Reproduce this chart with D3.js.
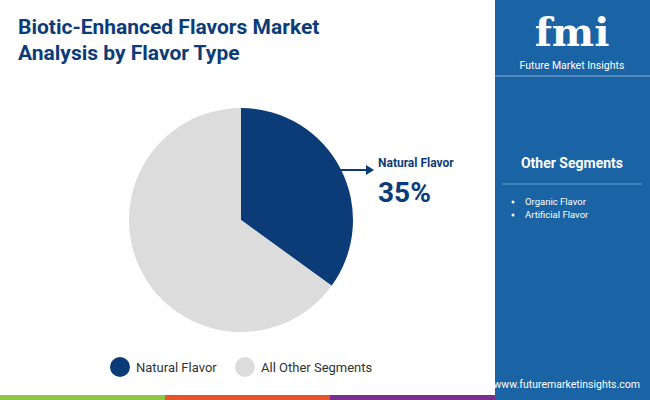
<!DOCTYPE html><html><head><script src="https://d3js.org/d3.v7.min.js"></script>
<style>body{margin:0}svg{display:block;font-family:Roboto,sans-serif}</style></head><body><svg width="650" height="400"></svg><script>
const categories=["Natural Flavor","All Other Segments"];
const values=[35,65];
const colors=["#0c3c78","#dcdcdc"];
const otherSegments=["Organic Flavor","Artificial Flavor"];
const svg=d3.select("svg");
svg.append("rect").attr("width",650).attr("height",400).attr("fill","#fff");
svg.append("rect").attr("x",495).attr("width",155).attr("height",400).attr("fill","#1a63a5");
svg.append("line").attr("x1",495).attr("x2",650).attr("y1",76).attr("y2",76).attr("stroke","#fff").attr("stroke-opacity",0.5);
[["#8dc63f",0],["#e8542a",165],["#7b2e8e",330]].forEach(([c,x])=>svg.append("rect").attr("x",x).attr("y",395).attr("width",165).attr("height",5).attr("fill",c));
const t=svg.append("text").attr("x",18).attr("fill","#0c3c78").attr("font-size",21).attr("font-weight",700);
t.append("tspan").attr("x",18).attr("y",34).text("Biotic-Enhanced Flavors Market");
t.append("tspan").attr("x",18).attr("y",60).text("Analysis by Flavor Type");
svg.append("text").attr("x",572).attr("y",46).attr("text-anchor","middle").attr("fill","#fff").attr("font-size",40).attr("font-weight",900).attr("font-family","DejaVu Serif").text("fmi");
svg.append("text").attr("x",572).attr("y",69).attr("text-anchor","middle").attr("fill","#fff").attr("font-size",10.5).text("Future Market Insights");
svg.append("text").attr("x",572).attr("y",168).attr("text-anchor","middle").attr("fill","#fff").attr("font-size",14).attr("font-weight",700).text("Other Segments");
svg.append("line").attr("x1",502).attr("x2",642).attr("y1",184).attr("y2",184).attr("stroke","#fff").attr("stroke-opacity",0.4);
otherSegments.forEach((s,i)=>{svg.append("circle").attr("cx",513).attr("cy",202+i*13).attr("r",1.5).attr("fill","#fff");
svg.append("text").attr("x",525).attr("y",205+i*13).attr("fill","#fff").attr("font-size",9.5).text(s);});
svg.append("text").attr("x",640).attr("y",388).attr("text-anchor","end").attr("fill","#fff").attr("font-size",10.5).text("www.futuremarketinsights.com");
const pie=d3.pie().sort(null)(values);
const arc=d3.arc().innerRadius(0).outerRadius(112);
svg.append("g").attr("transform","translate(241,220)").selectAll("path").data(pie).join("path").attr("d",arc).attr("fill",(d,i)=>colors[i]);
svg.append("line").attr("x1",335).attr("x2",368).attr("y1",170).attr("y2",170).attr("stroke","#0c3c78").attr("stroke-width",2);
svg.append("path").attr("d","M374,170 L366,165 L366,175Z").attr("fill","#0c3c78");
svg.append("text").attr("x",378).attr("y",167).attr("fill","#0c3c78").attr("font-size",12).attr("font-weight",700).text(categories[0]);
svg.append("text").attr("x",378).attr("y",202).attr("fill","#0c3c78").attr("font-size",28).attr("font-weight",700).text(values[0]+"%");
const lx=[120,245];
categories.forEach((c,i)=>{svg.append("circle").attr("cx",lx[i]).attr("cy",367).attr("r",10).attr("fill",colors[i]);
svg.append("text").attr("x",lx[i]+16).attr("y",372).attr("font-size",13).attr("fill","#333").text(c);});
</script></body></html>
